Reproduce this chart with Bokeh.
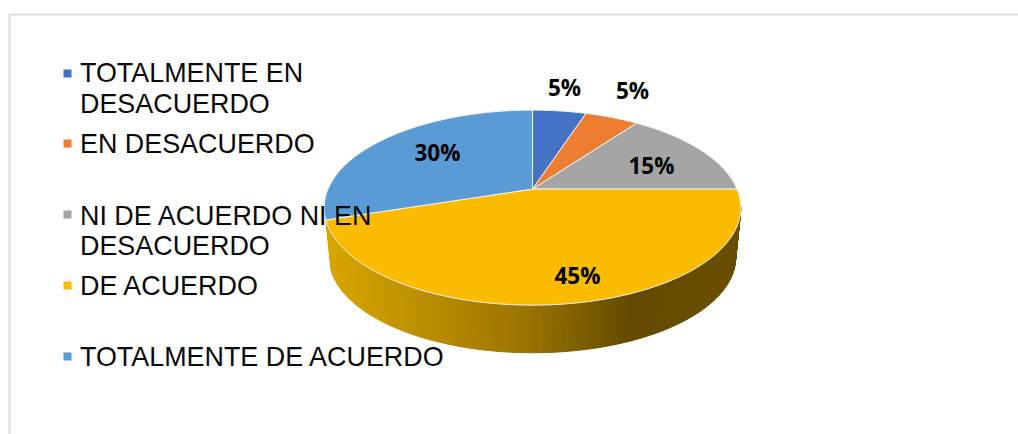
import numpy as np
from bokeh.plotting import figure
from bokeh.models import Range1d
from bokeh.core.properties import value
from bokeh.embed import file_html
from bokeh.resources import INLINE

categories = ["TOTALMENTE EN DESACUERDO", "EN DESACUERDO", "NI DE ACUERDO NI EN DESACUERDO",
              "DE ACUERDO", "TOTALMENTE DE ACUERDO"]
values = [5, 5, 15, 45, 30]
percent_labels = ["5%", "5%", "15%", "45%", "30%"]
colors = ["#4472C4", "#ED7D31", "#A5A5A5", "#FBBC00", "#5B9BD5"]

W, H = 1018, 434
p = figure(width=W, height=H, output_backend="svg", toolbar_location=None,
           x_range=Range1d(0, W), y_range=Range1d(H, 0),
           min_border=0, outline_line_color=None, background_fill_color="white")
p.axis.visible = False
p.grid.visible = False

# chart frame
p.line([9, 9, W], [H, 14, 14], line_color="#DEDEDE", line_width=2)

# perspective projection of the pie disc
AX, AY, A, B, K = 532.0, 188.6, 204.5, 94.0, 0.19
DROP, SHRINK = 50.5, 0.975


def rim(theta, scale=1.0, dy=0.0):
    xs, ys = np.sin(theta), np.cos(theta)
    d = 1 + K * ys
    return AX + scale * A * xs / d, AY + dy - scale * B * ys / d


fr = np.cumsum([0] + values) / sum(values) * 2 * np.pi
yellow = 3

# extruded side of the big slice, shaded left to right
side_start = np.radians(100.0)
side_end = fr[yellow + 1]
stops_x = [326, 430, 530, 630, 745]
stops_rgb = np.array([[216, 166, 0], [186, 140, 0], [152, 114, 0], [100, 74, 0], [108, 80, 0]])
edges = np.linspace(side_start, side_end, 200)
for t0, t1 in zip(edges[:-1], edges[1:]):
    x0, y0 = rim(t0)
    x1, y1 = rim(t1)
    x2, y2 = rim(t1, SHRINK, DROP)
    x3, y3 = rim(t0, SHRINK, DROP)
    mx = (x0 + x1) / 2
    c = [int(np.interp(mx, stops_x, stops_rgb[:, k])) for k in range(3)]
    col = "#%02x%02x%02x" % tuple(c)
    p.patch([x0, x1, x2, x3], [y0, y1, y2, y3], fill_color=col, line_color=col, line_width=1)

# top slices
for i, v in enumerate(values):
    t = np.linspace(fr[i], fr[i + 1], max(int(v * 4), 12))
    x, y = rim(t)
    p.patch(np.r_[AX, x], np.r_[AY, y], fill_color=colors[i], line_color="#F2F2F2", line_width=1)

# slice labels
label_x = [564, 632, 651, 577, 437]
label_y = [87, 90, 165, 275, 152]
p.text(label_x, label_y, text=percent_labels, text_align="center", text_baseline="middle",
       text_font=value("Open Sans"), text_font_style="bold", text_font_size="22.5px", text_color="black")

# legend
legend_lines = [["TOTALMENTE EN", "DESACUERDO"], ["EN DESACUERDO"], ["NI DE ACUERDO NI EN", "DESACUERDO"],
                ["DE ACUERDO"], ["TOTALMENTE DE ACUERDO"]]
legend_base = [[81, 112], [152], [224, 254], [294], [365]]
marker_y = [73, 143, 214, 285, 356]
for i, lines in enumerate(legend_lines):
    p.rect([67], [marker_y[i]], width=8, height=8, fill_color=colors[i], line_color=None)
    p.text([79.5] * len(lines), [b - 0.0 for b in legend_base[i]], text=lines, text_align="left",
           text_baseline="middle", text_font=value("Liberation Sans"), text_font_size="26.9px",
           text_color="#0A0A0A", y_offset=-9)

open("out.html", "w").write(file_html(p, INLINE))
